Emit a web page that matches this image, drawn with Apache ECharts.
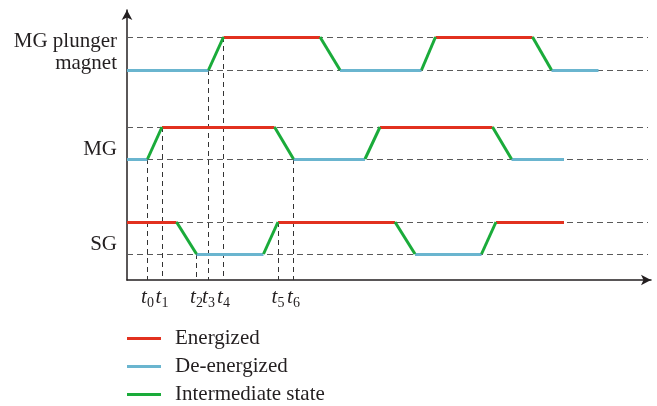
<!DOCTYPE html>
<html>
<head>
<meta charset="utf-8">
<script src="https://cdn.jsdelivr.net/npm/echarts@6/dist/echarts.min.js"></script>
<style>
html, body { margin: 0; padding: 0; background: #fff; }
#chart { width: 657px; height: 406px; }
</style>
</head>
<body>
<div id="chart"></div>
<script>
// signal names on the y axis
const signalNames = ['MG plunger\nmagnet', 'MG', 'SG']
// switching instants (arbitrary time units) and state: 1 = energized, 0 = de-energized
const plungerTimes = [0, 16.3, 19.3, 38.6, 42.6, 58.9, 61.7, 81.1, 84.9, 94.3]
const plungerStates = [0, 0, 1, 1, 0, 0, 1, 1, 0, 0]
const mgTimes = [0, 4.1, 7.0, 29.5, 33.3, 47.6, 50.6, 73.1, 76.9, 87.4]
const mgStates = [0, 0, 1, 1, 0, 0, 1, 1, 0, 0]
const sgTimes = [0, 9.9, 13.9, 27.3, 30.2, 53.6, 57.6, 70.9, 73.8, 87.4]
const sgStates = [1, 1, 0, 0, 1, 1, 0, 0, 1, 1]
// value of each signal for [de-energized, energized]
const plungerLevels = [21.0, 24.3]
const mgLevels = [12.1, 15.3]
const sgLevels = [2.6, 5.8]
// marked instants t0..t6 and the signal / state the guide drops from
const markTimes = [4.1, 7.0, 13.9, 16.3, 19.3, 30.2, 33.3]
const markSignal = [1, 1, 2, 0, 0, 2, 1]
const markState = [0, 1, 0, 0, 1, 1, 0]
// legend entries
const stateNames = ['Energized', 'De-energized', 'Intermediate state']

const colors = ['#e2311f', '#6ab5cf', '#1aab3a']
const font = '"Liberation Serif", "DejaVu Serif", serif'
const textColor = '#231f20'
const xEnd = 104.2

const signals = [
  { times: plungerTimes, states: plungerStates, levels: plungerLevels },
  { times: mgTimes, states: mgStates, levels: mgLevels },
  { times: sgTimes, states: sgStates, levels: sgLevels }
]

// split each waveform into coloured segments
const segs = [[], [], []]
signals.forEach((s) => {
  for (let i = 0; i < s.times.length - 1; i++) {
    const a = s.states[i]
    const b = s.states[i + 1]
    const k = a !== b ? 2 : a ? 0 : 1
    segs[k].push({ coords: [[s.times[i], s.levels[a]], [s.times[i + 1], s.levels[b]]] })
  }
})

// dashed guides
const hGuides = []
signals.forEach((s) => {
  s.levels.forEach((lv) => hGuides.push({ coords: [[0, lv], [xEnd, lv]] }))
})
const vGuides = markTimes.map((t, i) => {
  const lv = signals[markSignal[i]].levels[markState[i]]
  return { coords: [[t, lv], [t, 0]] }
})

const midLevels = signals.map((s) => (s.levels[0] + s.levels[1]) / 2)

const nearest = (arr, v) => {
  let best = 0
  arr.forEach((a, i) => {
    if (Math.abs(a - v) < Math.abs(arr[best] - v)) best = i
  })
  return best
}

const nameStyle = { fontFamily: font, fontSize: 21, lineHeight: 22, color: textColor, align: 'right' }

const myChart = echarts.init(document.getElementById('chart'))
const option = {
  animation: false,
  grid: { left: 127, right: 6, top: 10, bottom: 126 },
  xAxis: {
    type: 'value',
    min: 0,
    max: 104.8,
    axisLine: {
      symbol: ['none', 'arrow'],
      symbolSize: [8, 10],
      lineStyle: { color: textColor, width: 1.5 }
    },
    axisTick: { show: false },
    splitLine: { show: false },
    axisLabel: {
      customValues: markTimes,
      margin: 4,
      formatter: (v) => '{t|t}{s|' + nearest(markTimes, v) + '}',
      rich: {
        t: { fontFamily: font, fontStyle: 'italic', fontSize: 21, color: textColor },
        s: { fontFamily: font, fontSize: 14, color: textColor, padding: [12, 0, 0, 0] }
      }
    }
  },
  yAxis: {
    type: 'value',
    min: 0,
    max: 27,
    axisLine: {
      symbol: ['none', 'arrow'],
      symbolSize: [8, 10],
      lineStyle: { color: textColor, width: 1.5 }
    },
    axisTick: { show: false },
    splitLine: { show: false },
    axisLabel: {
      customValues: midLevels,
      margin: 10,
      formatter: (v) => {
        const i = nearest(midLevels, v)
        return signalNames[i].split('\n').map((s) => '{' + (i === 0 ? 'up' : 'dn') + '|' + s + '}').join('\n')
      },
      rich: {
        up: Object.assign({ padding: [0, 0, 3, 0] }, nameStyle),
        dn: Object.assign({ padding: [12, 0, 0, 0] }, nameStyle)
      }
    }
  },
  legend: {
    orient: 'vertical',
    left: 127,
    top: 328,
    padding: 0,
    icon: 'rect',
    itemWidth: 34,
    itemHeight: 3,
    itemGap: 7,
    selectedMode: false,
    textStyle: { fontFamily: font, fontSize: 21, color: textColor, lineHeight: 20, padding: [0, 0, 0, 9] },
    data: stateNames.map((n, i) => ({ name: n, itemStyle: { color: colors[i], borderWidth: 0 } }))
  },
  series: [
    {
      type: 'lines',
      coordinateSystem: 'cartesian2d',
      silent: true,
      z: 1,
      lineStyle: { color: '#5a5a5a', width: 1, opacity: 1, type: [6, 4] },
      data: hGuides
    },
    {
      type: 'lines',
      coordinateSystem: 'cartesian2d',
      silent: true,
      z: 1,
      lineStyle: { color: '#333', width: 1, opacity: 1, type: [5, 4] },
      data: vGuides
    }
  ].concat(stateNames.map((n, i) => ({
    name: n,
    type: 'lines',
    coordinateSystem: 'cartesian2d',
    silent: true,
    z: 3,
    itemStyle: { color: colors[i] },
    lineStyle: { color: colors[i], width: 3, opacity: 1 },
    data: segs[i]
  })))
}
myChart.setOption(option)
</script>
</body>
</html>
